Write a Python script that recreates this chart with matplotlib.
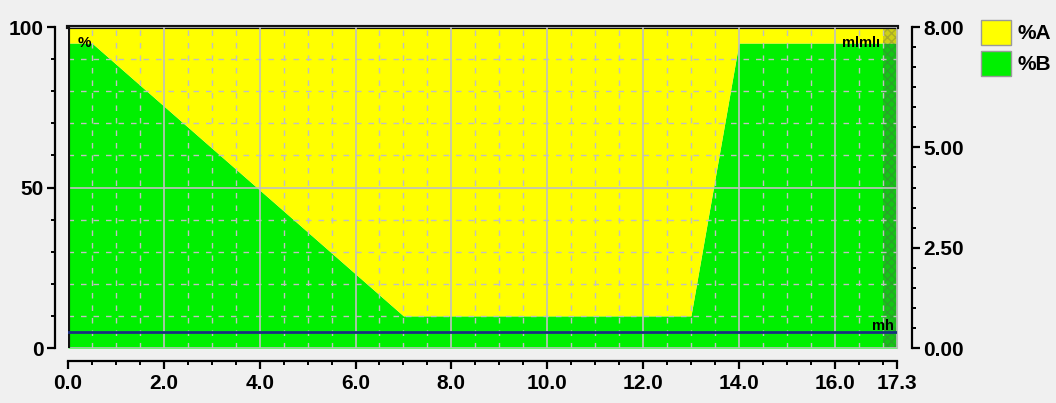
import matplotlib.pyplot as plt
from matplotlib.patches import Patch
from matplotlib.ticker import MultipleLocator, FixedLocator
import numpy as np

# Datos del gradiente
##################################################################
tiempo = [0.0, 0.5, 7.0, 13.0, 14.0, 17.3]
pct_b = [95, 95, 10, 10, 95, 95]
flujo_t = [0.0, 17.3]
flujo = [0.4, 0.4]
x_ticks = [0.0, 2.0, 4.0, 6.0, 8.0, 10.0, 12.0, 14.0, 16.0, 17.3]
y_ticks = [0, 50, 100]
y2_ticks = [0.0, 2.5, 5.0, 8.0]
legend_names = ["%A", "%B"]

AMARILLO = "#ffff00"
VERDE = "#00f000"
FONDO = "#f0f0f0"

plt.rcParams['font.family'] = ['Liberation Sans', 'DejaVu Sans']
plt.rcParams['font.weight'] = 'bold'

fig = plt.figure(figsize=(10.56, 4.03), dpi=100, facecolor=FONDO)
W, H = 1056, 403
ax = fig.add_axes([68 / W, 1 - 348 / H, (897 - 68) / W, (348 - 27) / H])
ax.set_facecolor(FONDO)

t = np.array(tiempo)
b = np.array(pct_b)
ax.fill_between(t, 0, b, color=VERDE, lw=0, zorder=1)
ax.fill_between(t, b, 100, color=AMARILLO, lw=0, zorder=1)
ax.axvspan(17.0, 17.3, facecolor=(0.3, 0.35, 0.3, 0.28), hatch='xxxx',
           edgecolor=(0.35, 0.35, 0.35, 0.3), lw=0, zorder=2)

ax.set_xlim(0, 17.3)
ax.set_ylim(0, 100)

# ejes
ax.xaxis.set_major_locator(FixedLocator(x_ticks))
ax.xaxis.set_minor_locator(MultipleLocator(0.5))
ax.set_xticklabels([f"{v:.1f}" for v in x_ticks])
ax.yaxis.set_major_locator(FixedLocator(y_ticks))
ax.yaxis.set_minor_locator(MultipleLocator(10))
ax.set_yticklabels([str(v) for v in y_ticks])

ax.spines['left'].set_position(('outward', 9.5))
ax.spines['bottom'].set_position(('outward', 9.5))
for s in ['left', 'bottom']:
    ax.spines[s].set_linewidth(1.6)
ax.spines['top'].set_linewidth(3)
ax.spines['top'].set_color('#111111')
ax.spines['right'].set_color('#bbbbbb')
ax.tick_params(which='major', length=6, width=1.6, pad=2)
ax.tick_params(which='minor', length=3, width=1.4)
ax.tick_params(axis='x', which='major', pad=3, labelsize=15)
ax.tick_params(axis='y', which='major', labelsize=15)

ax.grid(which='major', color='#c0c0c0', lw=1.2, ls='-', zorder=3)
ax.grid(which='minor', color='#c0c0c0', lw=1.0, ls=(0, (4, 5)), zorder=3)
ax.set_axisbelow(False)
ax.axvline(0, color='#111111', lw=3, zorder=4)

# eje de flujo
ax2 = ax.twinx()
ax2.set_ylim(0, 8)
ax2.plot(flujo_t, flujo, color='#1a2f80', lw=2, zorder=5)
ax2.yaxis.set_major_locator(FixedLocator(y2_ticks))
ax2.yaxis.set_minor_locator(MultipleLocator(0.5))
ax2.set_yticklabels([f"{v:.2f}" for v in y2_ticks])
ax2.spines['right'].set_position(('outward', 11))
ax2.spines['right'].set_linewidth(1.6)
for s in ['left', 'top', 'bottom']:
    ax2.spines[s].set_visible(False)
ax2.tick_params(which='major', length=6, width=1.6, pad=2, labelsize=15)
ax2.tick_params(which='minor', length=3, width=1.4)

# marcas de eventos
ax.text(0.35, 95, "%", fontsize=11, fontweight='bold', ha='center', va='center', zorder=6)
ax.text(16.55, 95, "mlmlı", fontsize=10.5, fontweight='bold', ha='center', va='center', zorder=6)
ax.text(17.0, 7, "mh", fontsize=10.5, fontweight='bold', ha='center', va='center', zorder=6)

# leyenda
handles = [Patch(facecolor=AMARILLO, edgecolor='#999999'),
           Patch(facecolor=VERDE, edgecolor='#999999')]
fig.legend(handles, legend_names, loc='upper left', bbox_to_anchor=(981 / W, 1 - 20 / H),
           frameon=False, prop={'weight': 'bold', 'size': 15},
           handlelength=1.45, handleheight=1.45, handletextpad=0.3, labelspacing=0.3,
           borderaxespad=0, borderpad=0)

fig.savefig("out.png", dpi=100, facecolor=FONDO)
